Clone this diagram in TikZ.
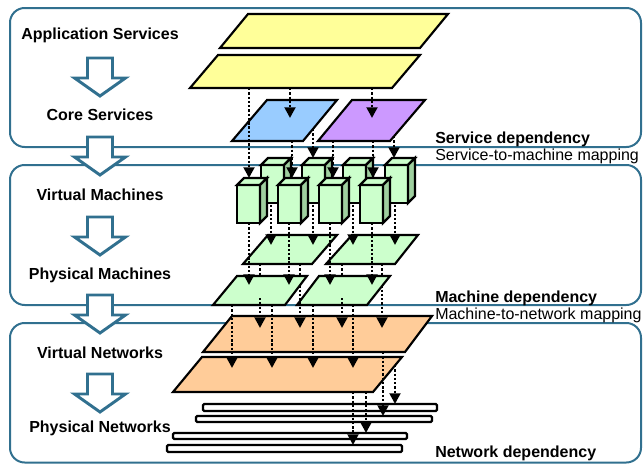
\documentclass[tikz,border=0pt]{standalone}
\usepackage{fontspec}
\setmainfont{Liberation Sans}
\usetikzlibrary{arrows.meta}

\definecolor{frameblue}{HTML}{31708F}
\definecolor{appyellow}{HTML}{FFFF99}
\definecolor{svcblue}{HTML}{99CCFF}
\definecolor{svcpurple}{HTML}{CC99FF}
\definecolor{vmgreen}{HTML}{CCFFCC}
\definecolor{vmside}{HTML}{9FD09F}
\definecolor{netorange}{HTML}{FFCC99}

\tikzset{
	layerbox/.style={draw=frameblue, line width=1.5pt, rounded corners=11pt},
	flowarrow/.style={draw=frameblue, fill=white, line width=2.2pt, line join=miter},
	plane/.style={draw=black, line width=1.6pt, line join=miter},
	linkbar/.style={draw=black, fill=white, line width=1.7pt, rounded corners=1pt},
	dep/.style={line width=2pt, dash pattern=on 1.8pt off 1.4pt, -{Triangle[width=8pt,length=8pt]}},
	deplink/.style={line width=2pt, dash pattern=on 1.8pt off 1.4pt},
	layername/.style={font=\fontsize{12}{14}\selectfont\bfseries, anchor=base},
	depname/.style={font=\fontsize{12}{14}\selectfont\bfseries, anchor=base west, inner sep=0pt},
	mapname/.style={font=\fontsize{12}{14}\selectfont, anchor=base west, inner sep=0pt}
}

% hollow arrow between two layer names: (centre x, top y)
\def\layerarrow(#1,#2){\draw[flowarrow] (#1-12.5,#2) -- (#1+12.5,#2) -- (#1+12.5,#2+20) -- (#1+25.5,#2+20) -- (#1,#2+38) -- (#1-25.5,#2+20) -- (#1-12.5,#2+20) -- cycle;}
% machine box: (left x, top y of the front face)
\def\vmcube(#1,#2){%
	\draw[plane, fill=vmgreen] (#1,#2) rectangle (#1+23,#2+38);
	\draw[plane, fill=vmgreen] (#1,#2) -- (#1+7,#2-7) -- (#1+30,#2-7) -- (#1+23,#2) -- cycle;
	\draw[plane, fill=vmside] (#1+23,#2) -- (#1+30,#2-7) -- (#1+30,#2+31) -- (#1+23,#2+38) -- cycle;}

\begin{document}
\begin{tikzpicture}[x=0.75pt, y=-0.75pt]
		%%%%% START %%%%%
		\useasboundingbox (0,0) rectangle (644,464);
		
		\draw[layerbox] (10,8) rectangle (641,147);
		\draw[layerbox] (10,165) rectangle (641,305);
		\draw[layerbox] (10,323) rectangle (641,462.5);
		
		\layerarrow(100,58)
		\layerarrow(100,137)
		\layerarrow(100,217)
		\layerarrow(100,295)
		\layerarrow(100,374)
		
		\node[layername] (appsvc) at (100,40) {Application Services};
		\node[layername] (coresvc) at (100,120) {Core Services};
		\node[layername] (vm) at (100,200) {Virtual Machines};
		\node[layername] (pm) at (100,279) {Physical Machines};
		\node[layername] (vn) at (100,358) {Virtual Networks};
		\node[layername] (pn) at (100,432) {Physical Networks};
		
		\node[depname] (svcdep) at (435,143) {Service dependency};
		\node[mapname] (svcmap) at (435,160) {Service-to-machine mapping};
		\node[depname] (machdep) at (435,302) {Machine dependency};
		\node[mapname] (machmap) at (435,319) {Machine-to-network mapping};
		\node[depname] (netdep) at (435,457) {Network dependency};
		
		% services
		\draw[plane, fill=appyellow] (248,14) -- (448,14) -- (420,48) -- (220,48) -- cycle;
		\draw[plane, fill=appyellow] (218,55) -- (420,55) -- (392,88) -- (190,88) -- cycle;
		\draw[plane, fill=svcblue] (267,100) -- (337,100) -- (303,141) -- (232,141) -- cycle;
		\draw[plane, fill=svcpurple] (352,100) -- (425,100) -- (390,141) -- (318,141) -- cycle;
		
		\draw[dep] (290,88) -- (290,118);
		\draw[dep] (372,88) -- (372,118);
		
		% machines
		\vmcube(261,165)
		\vmcube(302,165)
		\vmcube(343,165)
		\vmcube(385,165)
		\vmcube(237,185)
		\vmcube(278,185)
		\vmcube(319,185)
		\vmcube(360,185)
		
		\draw[dep] (249,88) -- (249,178);
		\draw[dep] (292,141) -- (292,178);
		\draw[dep] (313,129) -- (313,158);
		\draw[dep] (333,141) -- (333,178);
		\draw[dep] (373,141) -- (373,178);
		\draw[dep] (394,136) -- (394,158);
		
		\draw[plane, fill=vmgreen] (268,235) -- (337,235) -- (312,264) -- (243,264) -- cycle;
		\draw[plane, fill=vmgreen] (352,235) -- (418,235) -- (395,264) -- (326,264) -- cycle;
		
		\draw[dep] (271,205) -- (271,245);
		\draw[dep] (313,205) -- (313,245);
		\draw[dep] (353,205) -- (353,245);
		\draw[dep] (395,205) -- (395,245);
		\foreach \x in {260,300,342,382}
			\draw[deplink] (\x,264) -- (\x,300);
		
		\draw[plane, fill=vmgreen] (237,276) -- (307,276) -- (285,305) -- (213,305) -- cycle;
		\draw[plane, fill=vmgreen] (319,276) -- (390,276) -- (367,305) -- (297,305) -- cycle;
		
		\draw[dep] (249,223) -- (249,285);
		\draw[dep] (289,223) -- (289,285);
		\draw[dep] (330,223) -- (330,285);
		\draw[dep] (372,223) -- (372,285);
		
		% networks
		\draw[plane, fill=netorange] (232,316) -- (432,316) -- (405,352) -- (203,352) -- cycle;
		\draw[plane, fill=netorange] (202,357) -- (402,357) -- (373,392) -- (173,392) -- cycle;
		
		\draw[linkbar] (203,404) rectangle (437,411);
		\draw[linkbar] (196,416) rectangle (432,422);
		\draw[linkbar] (173,433) rectangle (407,439);
		\draw[linkbar] (167,445) rectangle (402,452);
		
		\foreach \x in {260,300,342,382}
			\draw[dep] (\x,298) -- (\x,328);
		\foreach \x in {232,272,313,353}
			\draw[dep] (\x,305) -- (\x,368);
		
		\draw[dep] (395,365) -- (395,404);
		\draw[dep] (383,352) -- (383,416);
		\draw[dep] (366,392) -- (366,433);
		\draw[dep] (353,392) -- (353,445);
		
		%%%%% END %%%%%
	\end{tikzpicture}
\end{document}
